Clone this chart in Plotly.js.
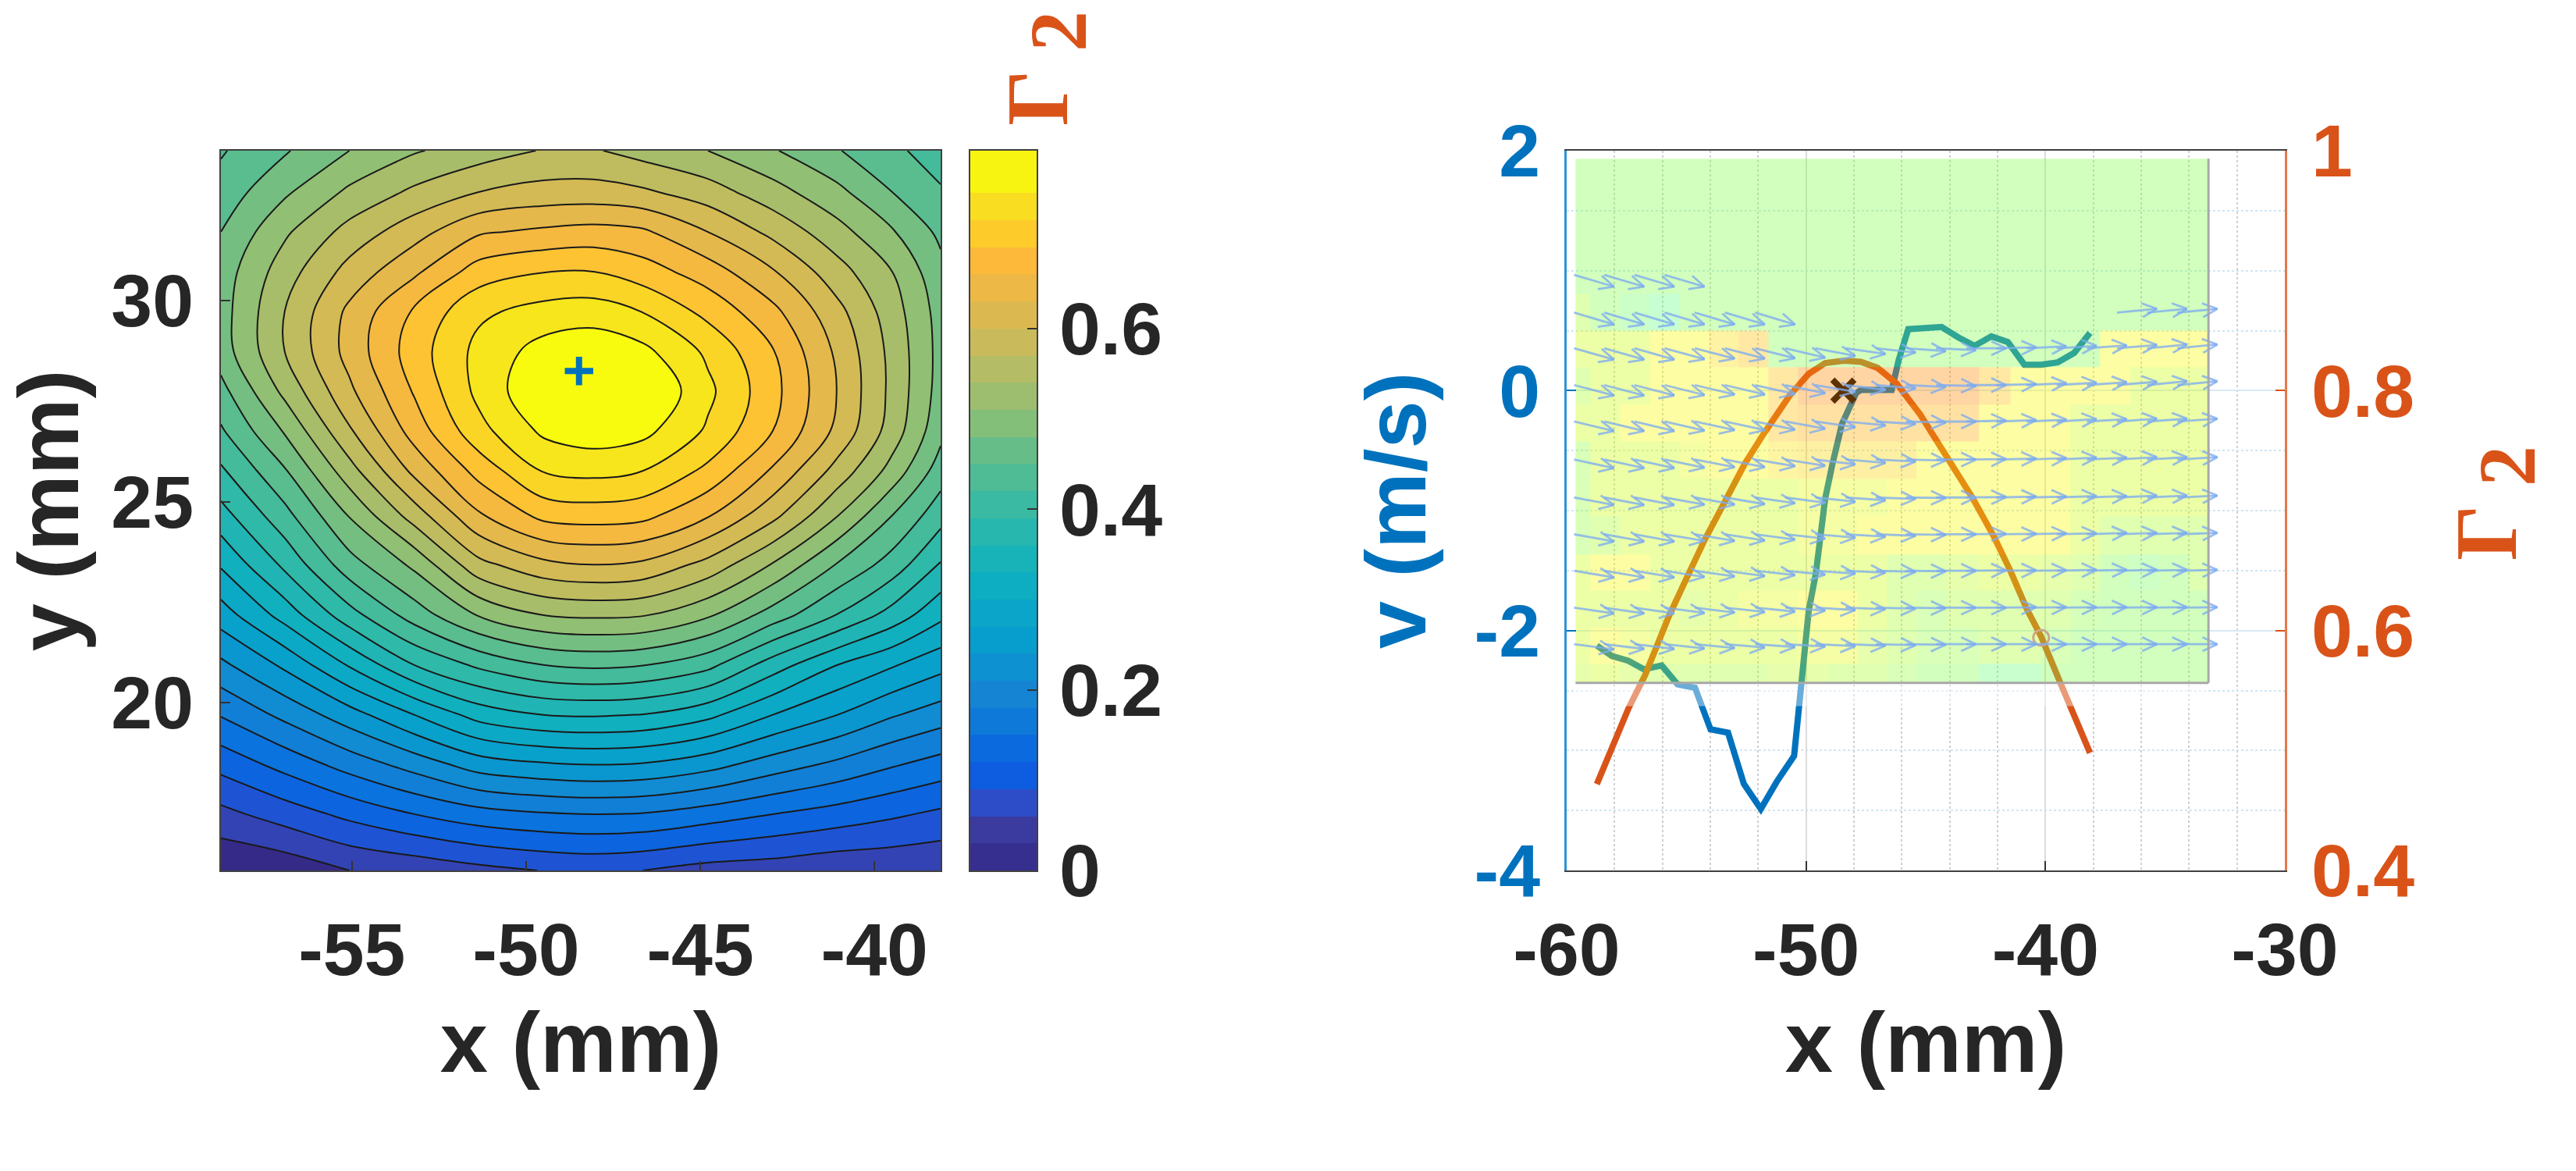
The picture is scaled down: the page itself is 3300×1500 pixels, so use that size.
<!DOCTYPE html>
<html><head><meta charset="utf-8">
<script src="https://cdn.plot.ly/plotly-3.0.1.min.js"></script>
<style>html,body{margin:0;padding:0;background:#fff}#c{width:3300px;height:1500px}</style>
</head><body><div id="c"></div>
<script>
// ---- left panel: Gamma2 map (mm, mm, value) ----
const mapX = [-58.76,-56.93,-55.07,-53.21,-51.36,-49.5,-48.07,-46.64,-44.78,-42.92,-41.06,-39.49,-38.1];
const mapY = [15.83,17.23,18.46,19.7,20.94,22.18,23.42,24.66,25.77,26.76,27.75,28.74,29.73,30.72,31.71,32.7,33.73];
const mapZ = [
[0.002,0.009,0.03,0.039,0.051,0.061,0.065,0.06,0.048,0.044,0.036,0.035,0.033],
[0.051,0.074,0.098,0.12,0.138,0.147,0.15,0.148,0.135,0.12,0.107,0.095,0.084],
[0.1,0.13,0.162,0.192,0.224,0.236,0.24,0.237,0.221,0.195,0.173,0.153,0.138],
[0.152,0.188,0.227,0.27,0.312,0.33,0.333,0.329,0.308,0.27,0.24,0.213,0.195],
[0.203,0.246,0.303,0.36,0.396,0.42,0.426,0.421,0.399,0.345,0.3,0.273,0.25],
[0.255,0.312,0.378,0.434,0.482,0.51,0.515,0.512,0.4845,0.4365,0.3885,0.348,0.3075],
[0.303,0.366,0.437,0.486,0.56,0.591,0.599,0.593,0.559,0.507,0.447,0.4065,0.357],
[0.348,0.41,0.482,0.554,0.626,0.669,0.674,0.669,0.633,0.579,0.511,0.45,0.402],
[0.385,0.447,0.528,0.608,0.671,0.722,0.729,0.72,0.683,0.626,0.559,0.499,0.435],
[0.416,0.483,0.566,0.643,0.71,0.756,0.767,0.759,0.7155,0.66,0.5925,0.5265,0.459],
[0.44,0.518,0.594,0.663,0.728,0.777,0.792,0.783,0.727,0.67,0.599,0.532,0.468],
[0.465,0.54,0.611,0.675,0.729,0.762,0.771,0.758,0.714,0.662,0.594,0.531,0.47],
[0.467,0.54,0.607,0.664,0.714,0.731,0.735,0.719,0.681,0.638,0.579,0.524,0.468],
[0.464,0.526,0.581,0.624,0.674,0.689,0.69,0.674,0.645,0.603,0.552,0.51,0.459],
[0.45,0.505,0.551,0.588,0.626,0.636,0.641,0.635,0.6,0.562,0.521,0.483,0.443],
[0.432,0.475,0.516,0.546,0.57,0.581,0.582,0.575,0.554,0.522,0.488,0.45,0.423],
[0.417,0.447,0.48,0.507,0.525,0.542,0.543,0.528,0.51,0.483,0.452,0.426,0.407]
];
const levelStart = 0.03, levelEnd = 0.75, levelSize = 0.03;
const colorbarEdges = [0,0.03,0.06,0.09,0.12,0.15,0.18,0.21,0.24,0.27,0.3,0.33,0.36,0.39,0.42,0.45,0.48,0.51,0.54,0.57,0.6,0.63,0.66,0.69,0.72,0.75,0.797];
const colorbarMids = [0.015,0.045,0.075,0.105,0.135,0.165,0.195,0.225,0.255,0.285,0.315,0.345,0.375,0.405,0.435,0.465,0.495,0.525,0.555,0.585,0.615,0.645,0.675,0.705,0.735,0.77];
const peakX = [-48.48], peakY = [28.25];
const parula = [[0,'#352a87'],[.058,'#3a3a9f'],[.096,'#2d4dc8'],[.135,'#0e5ce0'],[.19,'#0a72dd'],[.25,'#1585d3'],[.33,'#069ecd'],[.42,'#0fb0c0'],[.5,'#2fb9a8'],[.58,'#5bbd8e'],[.65,'#8fbf75'],[.73,'#bfbc60'],[.8,'#e2b84d'],[.865,'#fdb93a'],[.91,'#fdcf29'],[.96,'#f7e51c'],[1,'#f9fb0e']];

// ---- right panel: profiles ----
const vX = [-58.74,-58.11,-57.42,-56.78,-56.03,-55.37,-54.64,-53.99,-53.26,-52.6,-51.89,-51.22,-50.5,-50.19,-49.89,-49.59,-49.4,-49.2,-48.9,-48.5,-47.91,-47.71,-46.42,-46.13,-45.73,-44.34,-43.65,-42.96,-42.26,-41.57,-40.88,-40.18,-39.49,-38.8,-38.14];
const vY = [-2.126,-2.212,-2.252,-2.323,-2.291,-2.449,-2.477,-2.824,-2.852,-3.278,-3.488,-3.259,-3.045,-2.449,-1.837,-1.522,-1.206,-0.898,-0.614,-0.278,-0.021,0.006,0.006,0.255,0.512,0.531,0.445,0.373,0.452,0.405,0.216,0.216,0.235,0.314,0.48];
const gammaX = [-58.74,-57.42,-56.72,-55.73,-54.84,-54.25,-53.4,-52.56,-51.77,-50.68,-49.89,-49.2,-48.4,-47.71,-47.02,-46.22,-45.23,-44.05,-43.06,-42.17,-41.47,-40.78,-40.18,-39.39,-38.14];
const gammaY = [0.472,0.535,0.563,0.612,0.65,0.675,0.707,0.739,0.764,0.796,0.814,0.823,0.825,0.824,0.819,0.806,0.78,0.743,0.711,0.679,0.65,0.618,0.595,0.557,0.498];
const crossX = [-48.44], crossY = [0];
const ringX = [-40.18], ringY = [0.594];

// ---- right panel: background field (cell edges, bottom row first) ----
const fieldXEdges = [-59.63,-59,-57.76,-56.52,-55.29,-54.05,-52.82,-51.57,-50.35,-49.1,-47.87,-46.62,-45.39,-44.15,-42.76,-41.47,-40.18,-38.96,-37.71,-36.48,-35.23,-34,-33.19];
const fieldYEdges = [-2.437,-2.28,-1.976,-1.668,-1.364,-1.048,-0.732,-0.424,-0.12,0.196,0.5,0.808,1.112,1.42,1.724,1.933];
const fieldZ = [
[1.5,2,1.5,1,1,1,1,1.5,1.5,1,1,0.5,0,0,-0.8,-0.8,0,0,0,0,0,0],
[2,3,2.5,2,2,2,2,2,2.5,2.5,1.5,1,0.5,0.5,1,1,0.5,0,0,0,0,0],
[2,2,2,2,1.5,2,2.5,2.5,3,3,2,1,0.5,1,1,1,1,0.3,0,0,0,0],
[2,3,3,2,2,2,2,2,2,2,2,1,1,1.5,2,2,1.5,1,0,-0.3,0,1],
[0.5,1,2,2,2,2,2,2,2.5,2.5,3,3,3,3,3,3,3,2,1,1,1,1],
[0.5,2,2,2,2,2,2,2,2.5,2.5,2.5,3,3,3,3,3,3,2,2,2,2,2],
[0.5,2,2,2,2.5,3,3,3.4,3.6,3.6,3.6,3.6,3,3,3,3,3,2,2,2,2,2],
[2,2,3,3,3,3,3,4,4.3,4.3,4.3,4.3,4.3,4.3,3,3,3,2,2,2,2,2],
[1,2,2,3,3,3,3,4,5,5,5,5,5,5,4,3,3,3,3,2,2,2],
[2,2,2,3,3,3.5,4,0,0,0,0,0,0,0,0,0,0,0,3,3,3,3],
[1,0,-0.5,-1,0,0,0,0,0,0,0,0,0,0,0,0,0,0,0,0,0,0],
[0,0,0,0,0,0,0,0,0,0,0,0,0,0,0,0,0,0,0,0,0,0],
[0,0,0,0,0,0,0,0,0,0,0,0,0,0,0,0,0,0,0,0,0,0],
[0,0,0,0,0,0,0,0,0,0,0,0,0,0,0,0,0,0,0,0,0,0],
[0,0,0,0,0,0,0,0,0,0,0,0,0,0,0,0,0,0,0,0,0,0]
];
const fieldColors = [[0,'rgb(100,255,130)'],[0.1667,'rgb(130,255,77)'],[0.3333,'rgb(170,255,40)'],[0.5,'rgb(205,255,10)'],[0.6667,'rgb(250,250,0)'],[0.8333,'rgb(255,190,0)'],[1,'rgb(255,140,0)']];

// ---- right panel: velocity arrows (tail grid and vertical component) ----
const arrowX = [-59.69,-58.43,-57.17,-55.91,-54.65,-53.39,-52.13,-50.87,-49.61,-48.35,-47.09,-45.83,-44.57,-43.31,-42.05,-40.79,-39.53,-38.27,-37.01,-35.75,-34.49];
const arrowY = [0.965,0.65,0.353,0.046,-0.258,-0.575,-0.891,-1.198,-1.502,-1.81,-2.114];
const _ = null;
const arrowV = [
[-25,-25,-25,-25,_,_,_,_,_,_,_,_,_,_,_,_,_,_,_,_,_],
[-25,-25,-25,-25,-25,-25,-25,_,_,_,_,_,_,_,_,_,_,_,8,8,8],
[-24,-24,-24,-23,-22,-22,-21,-20,-16,-12,-9,-6,-4,0,2,4,5,6,7,8,8],
[-22,-22,-22,-21,-20,-20,-19,-17,-14,-10,-7,-4,-2,0,2,4,5,6,7,8,8],
[-20,-20,-20,-19,-18,-18,-17,-15,-12,-8,-5,-2,0,2,3,4,5,5,6,6,6],
[-18,-18,-18,-17,-16,-16,-14,-13,-10,-7,-4,-2,0,1,2,3,4,4,5,5,5],
[-16,-16,-16,-15,-15,-14,-12,-11,-9,-6,-3,-1,0,1,2,2,3,3,4,4,4],
[-15,-15,-15,-14,-14,-13,-11,-9,-7,-5,-3,-1,0,1,1,2,2,3,3,3,3],
[-14,-14,-14,-13,-12,-11,-9,-8,-6,-4,-2,-1,0,1,1,1,2,2,2,2,2],
[-12,-12,-12,-11,-10,-9,-8,-6,-5,-3,-2,-1,0,0,1,1,1,1,1,1,1],
[-11,-10,-10,-9,-8,-7,-6,-5,-4,-3,-2,-1,0,0,0,0,0,0,0,0,0]
];
const arrowVScale = 0.00395, arrowLen = 1.67;

// ---- text ----
const ink = '#262626', blue = '#0072bd', orange = '#d95319';
const sans = '"Liberation Sans", Arial, sans-serif';

// ---- arrow geometry through the panel's scales ----
const pxX = 30.6, pxY = 153.5, wing = 21, spread = 25 * Math.PI / 180;
const ax = [], ay = [];
arrowV.forEach((row, r) => row.forEach((v, c) => {
  if (v === null) return;
  const x0 = arrowX[c], y0 = arrowY[r], x1 = x0 + arrowLen, y1 = y0 + v * arrowVScale;
  ax.push(x0, x1, null); ay.push(y0, y1, null);
  const a = Math.atan2((y1 - y0) * pxY, (x1 - x0) * pxX);
  [a + spread, a - spread].forEach(t => {
    ax.push(x1, x1 - wing * Math.cos(t) / pxX, null);
    ay.push(y1, y1 - wing * Math.sin(t) / pxY, null);
  });
}));

const contourScale = parula.map(([g, c]) => [Math.max(0, (26 * g - 1) / 25), c]);

const traces = [
  {type:'contour', x:mapX, y:mapY, z:mapZ, xaxis:'x', yaxis:'y', autocontour:false,
   contours:{start:levelStart, end:levelEnd, size:levelSize, coloring:'fill', showlines:true},
   line:{color:'#1a1a1a', width:2, smoothing:1}, colorscale:contourScale, showscale:false, hoverinfo:'skip'},
  {type:'scatter', mode:'markers', x:peakX, y:peakY, xaxis:'x', yaxis:'y',
   marker:{symbol:'cross-thin', size:26, line:{color:blue, width:8}}, showlegend:false},
  {type:'heatmap', x:[0,1], y:colorbarEdges, z:colorbarMids.map(v => [v]), xaxis:'x2', yaxis:'y2',
   colorscale:parula, zmin:0, zmax:0.78, showscale:false, hoverinfo:'skip'},
  {type:'scatter', mode:'lines', x:vX, y:vY, xaxis:'x3', yaxis:'y3', line:{color:blue, width:8}, showlegend:false},
  {type:'scatter', mode:'markers', x:crossX, y:crossY, xaxis:'x3', yaxis:'y3',
   marker:{symbol:'x-thin', size:28, line:{color:'#000', width:8}}, showlegend:false},
  {type:'scatter', mode:'lines', x:gammaX, y:gammaY, xaxis:'x3', yaxis:'y4', line:{color:orange, width:8}, showlegend:false},
  {type:'scatter', mode:'markers', x:ringX, y:ringY, xaxis:'x3', yaxis:'y4',
   marker:{symbol:'circle-open', size:20, line:{color:orange, width:3}}, showlegend:false},
  {type:'heatmap', x:fieldXEdges, y:fieldYEdges, z:fieldZ, xaxis:'x4', yaxis:'y5',
   colorscale:fieldColors, zmin:-1, zmax:5, opacity:0.36, showscale:false, hoverinfo:'skip'},
  {type:'scatter', mode:'lines', x:ax, y:ay, xaxis:'x4', yaxis:'y5',
   line:{color:'rgba(125,172,240,0.78)', width:2.8}, showlegend:false, hoverinfo:'skip'}
];

const W = 3300, H = 1500;
const dx = (a, b) => [a / W, b / W];
const yDom = [(H - 1115) / H, (H - 193) / H];
const tickFont = {family:sans, size:95, color:ink, weight:700};
const titleFont = {family:sans, size:110, color:ink, weight:700};
const frame = {showline:true, linecolor:'#404040', linewidth:2, mirror:true, ticks:'inside', ticklen:12, tickwidth:2, tickcolor:'#333', zeroline:false, showgrid:false};
const gammaText = 'Γ <sub><span style="font-size:104px">2</span></sub>';
const gammaFont = {family:'"Liberation Serif", serif', size:112, color:orange, weight:700};

const layout = {
  width:W, height:H, margin:{l:0,r:0,t:0,b:0}, paper_bgcolor:'#fff', plot_bgcolor:'#fff', showlegend:false,
  xaxis:{...frame, domain:dx(283,1205), range:[-58.76,-38.1], tickvals:[-55,-50,-45,-40], ticktext:['-55','-50','-45','-40'], tickfont:tickFont, ticklabelstandoff:18,
    title:{text:'x (mm)', font:titleFont, standoff:28}, anchor:'y'},
  yaxis:{...frame, domain:yDom, range:[15.83,33.73], tickvals:[20,25,30], tickfont:tickFont, ticklabelstandoff:14,
    title:{text:'y (mm)', font:titleFont, standoff:26}, anchor:'x'},
  xaxis2:{...frame, domain:dx(1243,1328), range:[0,1], ticks:'', showticklabels:false, anchor:'y2'},
  yaxis2:{...frame, domain:yDom, range:[0,0.797], side:'right', tickvals:[0,0.2,0.4,0.6], ticktext:['0','0.2','0.4','0.6'], tickfont:tickFont, ticklabelstandoff:8, anchor:'x2'},
  xaxis3:{...frame, domain:dx(2007,2927), range:[-60,-30], tickvals:[-60,-50,-40,-30], ticktext:['-60','-50','-40','-30'], tickfont:tickFont, ticklabelstandoff:18,
    showgrid:true, gridcolor:'#dcdcdc', gridwidth:2,
    minor:{dtick:2, showgrid:true, griddash:'dot', gridcolor:'#d0d0d0', gridwidth:2, ticks:''},
    title:{text:'x (mm)', font:titleFont, standoff:28}, anchor:'y3'},
  yaxis3:{showline:true, linecolor:'#2e92d6', linewidth:3, ticks:'inside', ticklen:12, tickwidth:2, tickcolor:blue, zeroline:false,
    domain:yDom, range:[-4,2], tickvals:[-4,-2,0,2], ticktext:['-4','-2','0','2'], tickfont:{...tickFont, color:blue}, ticklabelstandoff:12,
    showgrid:true, gridcolor:'#d8e9f6', gridwidth:2,
    minor:{dtick:0.5, showgrid:true, griddash:'dot', gridcolor:'#d0e5f4', gridwidth:2, ticks:''},
    title:{text:'v (m/s)', font:{...titleFont, color:blue}, standoff:26}, anchor:'x3'},
  yaxis4:{showline:true, linecolor:'#e57a4a', linewidth:3, ticks:'inside', ticklen:12, tickwidth:2, tickcolor:orange, zeroline:false, showgrid:false,
    domain:yDom, range:[0.4,1], side:'right', overlaying:'y3', tickvals:[0.4,0.6,0.8,1], ticktext:['0.4','0.6','0.8','1'], tickfont:{...tickFont, color:orange}, ticklabelstandoff:12, anchor:'x3'},
  xaxis4:{domain:dx(2007,2927), range:[-60,-30], overlaying:'x3', visible:false, anchor:'y5'},
  yaxis5:{domain:yDom, range:[-4,2], overlaying:'y3', visible:false, anchor:'x4'},
  shapes:[
    {type:'rect', xref:'x4', yref:'y5', x0:-59.63, x1:-33.19, y0:-2.63, y1:-2.437, fillcolor:'rgba(255,255,255,0.42)', line:{width:0}, layer:'above'},
    {type:'line', xref:'x4', yref:'y5', x0:-59.63, x1:-33.19, y0:-2.437, y1:-2.437, line:{color:'#a8a8a8', width:3}, layer:'above'},
    {type:'line', xref:'x4', yref:'y5', x0:-33.19, x1:-33.19, y0:-2.437, y1:1.933, line:{color:'#a8a8a8', width:3}, layer:'above'}
  ],
  annotations:[
    {xref:'paper', yref:'paper', x:1340/W, y:1-88/H, xanchor:'center', yanchor:'middle', showarrow:false, textangle:-90, text:gammaText, font:gammaFont},
    {xref:'paper', yref:'paper', x:3196/W, y:1-645/H, xanchor:'center', yanchor:'middle', showarrow:false, textangle:-90, text:gammaText, font:gammaFont}
  ]
};
Plotly.newPlot('c', traces, layout, {displayModeBar:false, responsive:false});
</script></body></html>
